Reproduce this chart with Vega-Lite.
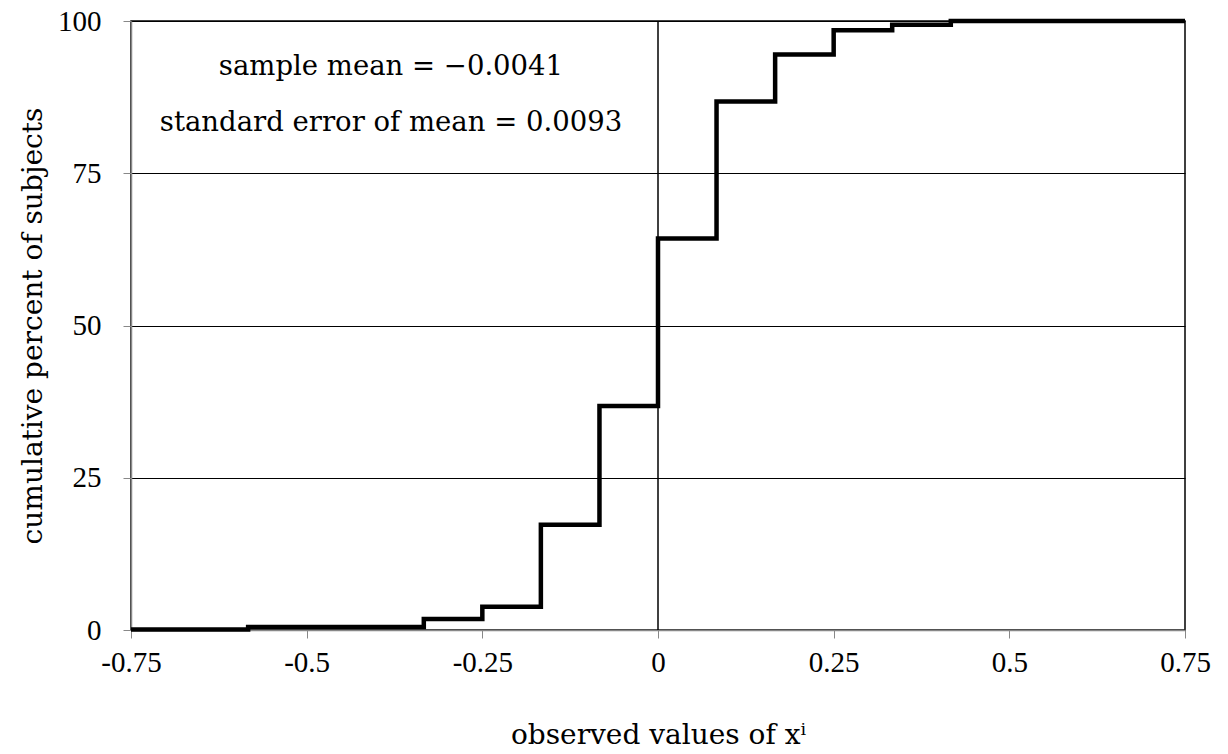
{
  "$schema": "https://vega.github.io/schema/vega-lite/v6.json",
  "autosize": "none",
  "width": 1054,
  "height": 609,
  "padding": {"left": 131, "top": 21, "right": 43, "bottom": 124},
  "background": "white",
  "config": {
    "font": "Liberation Serif",
    "view": {"stroke": "black", "strokeWidth": 1.5},
    "axis": {
      "labelFont": "Liberation Serif",
      "titleFont": "DejaVu Serif",
      "labelFontSize": 29,
      "titleFontSize": 28,
      "titleFontWeight": "normal",
      "labelColor": "black",
      "titleColor": "black",
      "tickColor": "#888888",
      "tickSize": 8,
      "domainColor": "#888888",
      "domainWidth": 1.5,
      "labelFlush": false
    }
  },
  "datasets": {
    "cdf": [
      {"x": -0.75, "pct": 0.1},
      {"x": -0.5833, "pct": 0.5},
      {"x": -0.3333, "pct": 1.8},
      {"x": -0.25, "pct": 3.8},
      {"x": -0.1667, "pct": 17.3},
      {"x": -0.0833, "pct": 36.8},
      {"x": 0, "pct": 64.3},
      {"x": 0.0833, "pct": 86.8},
      {"x": 0.1667, "pct": 94.5},
      {"x": 0.25, "pct": 98.5},
      {"x": 0.3333, "pct": 99.4},
      {"x": 0.4167, "pct": 100},
      {"x": 0.75, "pct": 100}
    ],
    "notes": [
      {"x": -0.38, "pct": 92.4, "label": "sample mean = −0.0041"},
      {"x": -0.38, "pct": 83.3, "label": "standard error of mean = 0.0093"}
    ]
  },
  "encoding": {
    "x": {
      "field": "x",
      "type": "quantitative",
      "scale": {"domain": [-0.75, 0.75], "nice": false, "zero": false},
      "axis": {
        "values": [-0.75, -0.5, -0.25, 0, 0.25, 0.5, 0.75],
        "labelExpr": "datum.value < 0 ? '-' + format(-datum.value, '') : format(datum.value, '')",
        "grid": false,
        "labelPadding": 10,
        "titlePadding": 44,
        "title": "observed values of xⁱ"
      }
    },
    "y": {
      "field": "pct",
      "type": "quantitative",
      "scale": {"domain": [0, 100], "nice": false},
      "axis": {
        "values": [0, 25, 50, 75, 100],
        "grid": true,
        "gridColor": "black",
        "gridWidth": 1,
        "gridOpacity": 1,
        "labelPadding": 22,
        "titlePadding": 10,
        "title": "cumulative percent of subjects"
      }
    }
  },
  "layer": [
    {
      "data": {"values": [{"x": 0}]},
      "mark": {"type": "rule", "color": "black", "strokeWidth": 1.5},
      "encoding": {"y": {"value": 0}, "y2": {"value": 609}}
    },
    {
      "data": {"name": "cdf"},
      "mark": {"type": "line", "interpolate": "step-after", "color": "black", "strokeWidth": 4.5, "strokeJoin": "miter"}
    },
    {
      "data": {"name": "notes"},
      "mark": {"type": "text", "font": "DejaVu Serif", "fontSize": 27.5, "align": "center", "baseline": "middle", "color": "black"},
      "encoding": {"text": {"field": "label"}}
    }
  ]
}
